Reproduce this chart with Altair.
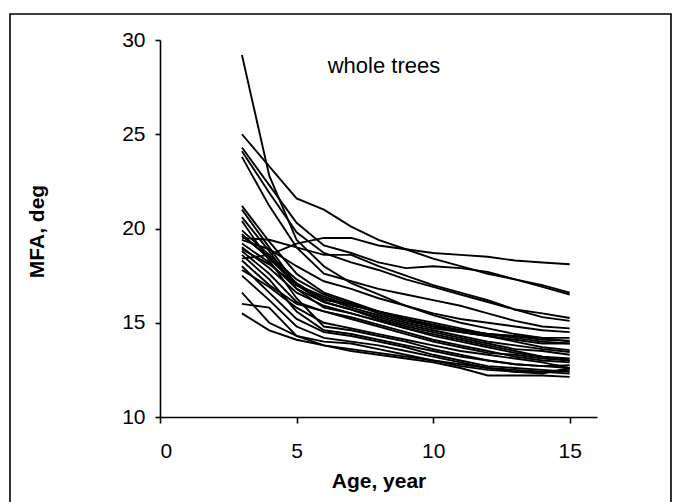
import altair as alt
import pandas as pd

# Tree age (years) at which microfibril angle was measured
ages = [3, 4, 5, 6, 7, 8, 9, 10, 11, 12, 13, 14, 15]

# MFA (degrees) per tree, one value per age
t01 = [29.2, 22.8, 19.4, 18.0, 17.1, 16.5, 15.9, 15.4, 15.0, 14.7, 14.4, 14.2, 14.0]
t02 = [25.0, 23.3, 21.6, 21.0, 20.1, 19.4, 18.9, 18.4, 18.0, 17.6, 17.3, 17.0, 16.6]
t03 = [24.3, 22.3, 20.3, 19.1, 18.7, 18.2, 17.9, 18.0, 17.9, 17.7, 17.3, 16.9, 16.5]
t04 = [24.1, 21.9, 19.8, 18.7, 18.2, 17.8, 17.3, 16.9, 16.5, 16.1, 15.7, 15.5, 15.25]
t05 = [23.8, 21.2, 19.0, 17.6, 17.2, 16.8, 16.5, 16.2, 15.9, 15.5, 15.1, 14.8, 14.7]
t06 = [18.4, 18.6, 19.2, 19.5, 19.5, 19.1, 18.9, 18.7, 18.6, 18.5, 18.3, 18.2, 18.1]
t07 = [19.5, 19.4, 19.0, 18.6, 18.6, 18.0, 17.5, 17.0, 16.6, 16.2, 15.7, 15.3, 15.1]
t08 = [21.2, 19.3, 17.6, 16.6, 16.1, 15.6, 15.2, 14.8, 14.5, 14.3, 14.1, 13.9, 13.9]
t09 = [21.0, 19.0, 17.0, 16.1, 15.7, 15.2, 14.8, 14.5, 14.2, 13.9, 13.6, 13.5, 13.3]
t10 = [20.6, 18.8, 16.8, 15.8, 15.5, 15.1, 14.7, 14.4, 14.1, 13.8, 13.5, 13.2, 13.0]
t11 = [20.4, 18.3, 16.3, 14.8, 14.6, 14.3, 14.0, 13.6, 13.3, 13.0, 12.8, 12.7, 12.6]
t12 = [19.9, 18.6, 17.3, 16.5, 16.0, 15.5, 15.1, 14.8, 14.6, 14.4, 14.3, 14.1, 14.05]
t13 = [19.7, 18.4, 17.0, 16.3, 15.8, 15.4, 15.0, 14.7, 14.5, 14.3, 14.0, 13.7, 13.55]
t14 = [19.4, 18.9, 18.0, 17.2, 16.8, 16.3, 15.9, 15.5, 15.2, 15.0, 14.8, 14.6, 14.5]
t15 = [19.2, 18.2, 16.8, 16.1, 15.7, 15.3, 14.9, 14.6, 14.3, 14.0, 13.8, 13.6, 13.45]
t16 = [19.0, 17.9, 16.6, 15.9, 15.5, 15.1, 14.7, 14.3, 14.0, 13.7, 13.4, 13.2, 13.1]
t17 = [18.9, 18.1, 17.0, 16.4, 15.9, 15.6, 15.2, 14.9, 14.6, 14.4, 14.3, 14.2, 14.2]
t18 = [18.8, 17.6, 16.1, 15.6, 15.3, 14.9, 14.5, 14.1, 13.8, 13.5, 13.2, 13.0, 12.9]
t19 = [18.6, 17.3, 15.6, 14.6, 14.4, 14.1, 13.8, 13.5, 13.2, 13.0, 12.8, 12.7, 12.75]
t20 = [18.0, 16.6, 15.2, 14.5, 14.3, 14.0, 13.7, 13.3, 13.0, 12.7, 12.6, 12.5, 12.4]
t21 = [17.8, 16.9, 15.8, 15.0, 14.7, 14.4, 14.1, 13.8, 13.5, 13.3, 13.1, 12.9, 12.6]
t22 = [17.5, 16.2, 14.8, 14.2, 14.0, 13.8, 13.5, 13.2, 12.9, 12.6, 12.5, 12.4, 12.3]
t23 = [16.6, 15.0, 14.3, 14.0, 13.9, 13.6, 13.3, 13.0, 12.8, 12.6, 12.4, 12.4, 12.5]
t24 = [16.0, 15.8, 14.3, 13.8, 13.5, 13.3, 13.1, 12.9, 12.6, 12.2, 12.2, 12.2, 12.13]
t25 = [15.5, 14.6, 14.1, 13.8, 13.6, 13.4, 13.2, 13.0, 12.7, 12.5, 12.4, 12.3, 12.6]
t26 = [19.6, 18.5, 17.1, 16.2, 16.0, 15.6, 15.3, 15.0, 14.7, 14.4, 14.2, 14.0, 13.9]
t27 = [18.3, 17.0, 16.0, 15.6, 15.2, 14.8, 14.4, 14.0, 13.7, 13.4, 13.3, 13.1, 13.0]

trees = [t01, t02, t03, t04, t05, t06, t07, t08, t09, t10, t11, t12, t13, t14,
         t15, t16, t17, t18, t19, t20, t21, t22, t23, t24, t25, t26, t27]

x_ticks = [0, 5, 10, 15]
y_ticks = [10, 15, 20, 25, 30]

rows = []
for i, series in enumerate(trees, start=1):
    for a, v in zip(ages, series):
        rows.append({"tree": f"T{i:02d}", "age": a, "mfa": v})
df = pd.DataFrame(rows)

FONT = "Liberation Sans"

lines = alt.Chart(df).mark_line(color="black", strokeWidth=1.9).encode(
    x=alt.X(
        "age:Q",
        scale=alt.Scale(domain=[0, 16], nice=False),
        axis=alt.Axis(
            values=x_ticks, title="Age, year", tickSize=6, labelPadding=17,
            titleX=218.5, titleY=64, titleBaseline="middle", titleAlign="center",
        ),
    ),
    y=alt.Y(
        "mfa:Q",
        scale=alt.Scale(domain=[10, 30], nice=False),
        axis=alt.Axis(
            values=y_ticks, title="MFA, deg", tickSize=5, labelPadding=10,
            titleX=-123, titleY=191, titleBaseline="middle", titleAlign="center",
            titleAngle=-90,
        ),
    ),
    detail="tree:N",
)

label = alt.Chart(pd.DataFrame({"age": [8.2], "mfa": [28.6], "txt": ["whole trees"]})).mark_text(
    font=FONT, fontSize=22, color="black", align="center", baseline="middle"
).encode(x="age:Q", y="mfa:Q", text="txt:N")

# Outer frame around the whole figure
frame = alt.Chart(pd.DataFrame({"k": [0]})).mark_rect(
    fill=None, stroke="black", strokeWidth=1.6
).encode(
    x=alt.value(-150), x2=alt.value(511), y=alt.value(-26), y2=alt.value(490)
)

chart = (
    alt.layer(frame, lines, label)
    .properties(
        width=437, height=377,
        autosize=alt.AutoSizeParams(type="none"),
        padding={"left": 160, "top": 40, "right": 83, "bottom": 85},
        background="white",
    )
    .configure_view(stroke=None)
    .configure_axis(
        grid=False,
        domainColor="black", domainWidth=1.6,
        tickColor="black", tickWidth=1.6,
        labelFont=FONT, labelFontSize=21, labelColor="black",
        titleFont=FONT, titleFontSize=21, titleFontWeight="bold", titleColor="black",
    )
)

chart.save("out.html", embed_options={"renderer": "svg", "actions": False})
